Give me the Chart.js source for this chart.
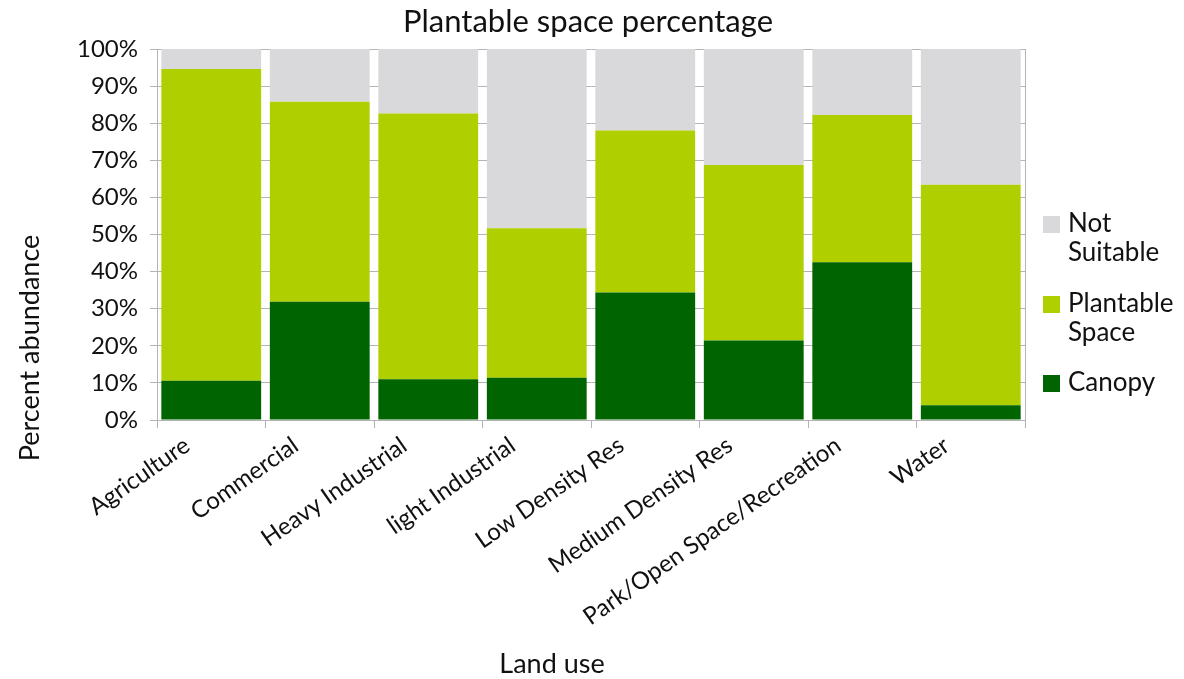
<!DOCTYPE html>
<html>
<head>
<meta charset="utf-8">
<script src="https://cdn.jsdelivr.net/npm/chart.js@4"></script>
<style>
  html, body { margin: 0; padding: 0; background: #fff; }
  #wrap { width: 1184px; height: 679px; }
</style>
</head>
<body>
<div id="wrap"><canvas id="chart"></canvas></div>
<script>
// ---- data ----
const landUse = ['Agriculture', 'Commercial', 'Heavy Industrial', 'light Industrial',
  'Low Density Res', 'Medium Density Res', 'Park/Open Space/Recreation', 'Water'];
const canopy     = [10.6, 31.9, 11.0, 11.4, 34.4, 21.4, 42.5, 4.0];
const plantable  = [84.0, 53.9, 71.6, 40.3, 43.6, 47.3, 39.7, 59.4];
const notSuitable = [5.4, 14.2, 17.4, 48.3, 22.0, 31.3, 17.8, 36.6];
const yTicks = ['0%', '10%', '20%', '30%', '40%', '50%', '60%', '70%', '80%', '90%', '100%'];

const FONT = 'Lato, "Open Sans", sans-serif';
const legendItems = [
  { lines: ['Not', 'Suitable'], color: '#d9d9db' },
  { lines: ['Plantable', 'Space'], color: '#b0cf00' },
  { lines: ['Canopy'], color: '#006400' }
];

// title, axis titles + legend drawn by hand (two-line legend labels)
const extras = {
  id: 'extras',
  afterDraw(chart) {
    const ctx = chart.ctx, area = chart.chartArea;
    ctx.save();
    ctx.fillStyle = '#111';
    ctx.textAlign = 'center';
    ctx.textBaseline = 'middle';
    ctx.font = '31px ' + FONT;
    ctx.fillText('Plantable space percentage', 588, 22);
    ctx.font = '27px ' + FONT;
    ctx.fillText('Land use', 552, 664);
    ctx.translate(30, 348);
    ctx.rotate(-Math.PI / 2);
    ctx.fillText('Percent abundance', 0, 0);
    ctx.restore();

    // right border of plot
    ctx.save();
    ctx.strokeStyle = '#b4b4b4';
    ctx.lineWidth = 1;
    ctx.beginPath();
    ctx.moveTo(area.right + 0.5, area.top);
    ctx.lineTo(area.right + 0.5, area.bottom);
    ctx.stroke();
    ctx.restore();

    // legend
    ctx.save();
    ctx.font = '26px ' + FONT;
    ctx.textAlign = 'left';
    ctx.textBaseline = 'middle';
    const starts = [224, 304, 383];
    legendItems.forEach((it, i) => {
      const y = starts[i];
      ctx.fillStyle = it.color;
      ctx.fillRect(1043, y - 8, 17, 17);
      ctx.fillStyle = '#111';
      it.lines.forEach((ln, j) => ctx.fillText(ln, 1068, y + j * 29));
    });
    ctx.restore();
  }
};

new Chart(document.getElementById('chart'), {
  type: 'bar',
  data: {
    labels: landUse,
    datasets: [{
      label: 'Canopy',
      data: canopy,
      backgroundColor: '#006400'
    }, {
      label: 'Plantable Space',
      data: plantable,
      backgroundColor: '#b0cf00'
    }, {
      label: 'Not Suitable',
      data: notSuitable,
      backgroundColor: '#d9d9db'
    }]
  },
  options: {
    responsive: true,
    maintainAspectRatio: false,
    animation: false,
    datasets: {
      bar: { barPercentage: 0.92, categoryPercentage: 1.0 }
    },
    layout: { padding: { left: 40, right: 159, top: 49, bottom: 0 } },
    plugins: {
      legend: { display: false },
      tooltip: { enabled: false },
      title: { display: false }
    },
    scales: {
      x: {
        stacked: true,
        afterFit: (s) => { s.height = 259; },
        grid: { offset: true, drawOnChartArea: false, tickLength: 8, color: '#b4b4b4' },
        border: { color: '#b4b4b4' },
        ticks: {
          color: '#111',
          font: { family: FONT, size: 24 },
          minRotation: 35,
          maxRotation: 35,
          autoSkip: false,
          labelOffset: -24
        }
      },
      y: {
        stacked: true,
        min: 0,
        max: 100,
        afterFit: (s) => { s.width = 117; },
        grid: { color: '#b4b4b4', tickLength: 7 },
        border: { color: '#b4b4b4' },
        ticks: {
          stepSize: 10,
          color: '#111',
          font: { family: FONT, size: 24 },
          padding: 12,
          callback: (v) => yTicks[Math.round(v / 10)]
        }
      }
    }
  },
  plugins: [extras]
});
</script>
</body>
</html>
